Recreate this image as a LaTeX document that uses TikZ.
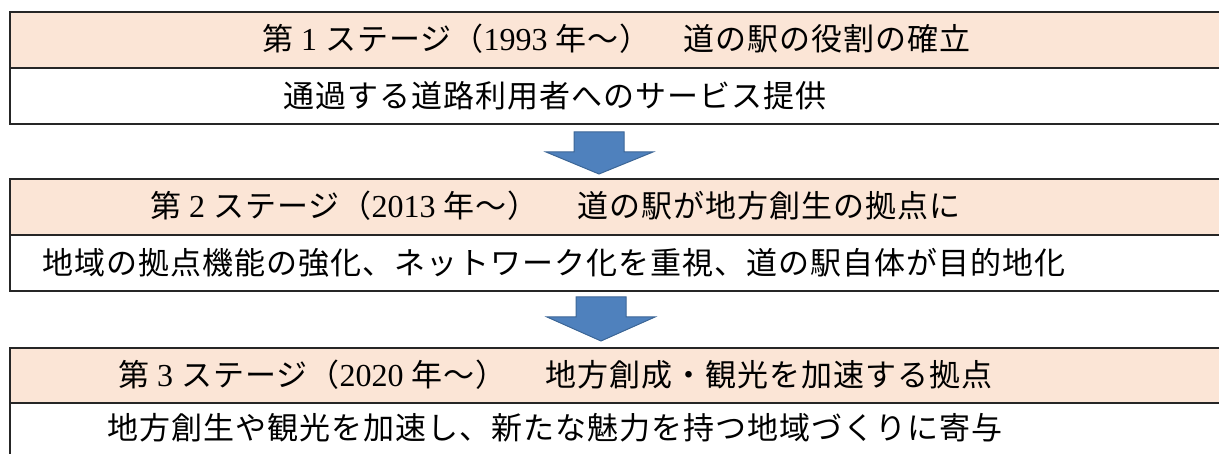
\documentclass[tikz,border=0pt]{standalone}
\usepackage{fontspec}
\setmainfont{Liberation Serif}
\newfontfamily\jp{Noto Sans CJK JP}[LetterSpace=3.3]
\definecolor{peach}{HTML}{FBE5D6}
\definecolor{arrowblue}{HTML}{4F81BD}
\definecolor{arrowedge}{HTML}{3C6696}
\newcommand{\dg}[1]{{\fontsize{32}{36}\selectfont #1}}
\tikzset{
  box/.style={draw=black!85, line width=1.2pt, anchor=north west, minimum width=1230pt, inner sep=0pt, outer sep=0pt},
  hdr/.style={box, fill=peach},
  cnt/.style={box, fill=white},
  txt/.style={anchor=west, inner sep=0pt, font=\fontsize{31}{36}\selectfont},
  blockarrow/.style={fill=arrowblue, draw=arrowedge, line width=1pt, line join=miter}
}
\begin{document}
\begin{tikzpicture}[x=1pt,y=-1pt]
\useasboundingbox (0,0) rectangle (1219,454);
\clip (0,0) rectangle (1219,454);
% stage 1
\node[cnt, minimum height=56pt] (c1) at (10,68) {};
\node[hdr, minimum height=56pt] (h1) at (10,12) {};
% stage 2
\node[cnt, minimum height=56pt] (c2) at (10,235) {};
\node[hdr, minimum height=56pt] (h2) at (10,179) {};
% stage 3
\node[cnt, minimum height=60pt] (c3) at (10,403) {};
\node[hdr, minimum height=55pt] (h3) at (10,348) {};
% arrows
\draw[blockarrow] (574,132) -- (624,132) -- (624,152) -- (653,152) -- (599,174) -- (546,152) -- (574,152) -- cycle;
\draw[blockarrow] (576,297) -- (626,297) -- (626,317) -- (655,317) -- (601,341) -- (547,317) -- (576,317) -- cycle;
% texts
\node[txt] (t1a) at (262,39) {{\jp 第}\hspace{8pt}\dg{1}\hspace{8pt}{\jp ステージ（}\dg{1993}\hspace{8pt}{\jp 年～）}};
\node[txt] (t1b) at (683,39) {\jp 道の駅の役割の確立};
\node[txt] (s1) at (283,96) {\jp 通過する道路利用者へのサービス提供};
\node[txt] (t2a) at (150,206) {{\jp 第}\hspace{8pt}\dg{2}\hspace{8pt}{\jp ステージ（}\dg{2013}\hspace{8pt}{\jp 年～）}};
\node[txt] (t2b) at (577,206) {\jp 道の駅が地方創生の拠点に};
\node[txt] (s2) at (42,263) {\jp 地域の拠点機能の強化、ネットワーク化を重視、道の駅自体が目的地化};
\node[txt] (t3a) at (118,375) {{\jp 第}\hspace{8pt}\dg{3}\hspace{8pt}{\jp ステージ（}\dg{2020}\hspace{8pt}{\jp 年～）}};
\node[txt] (t3b) at (545,375) {\jp 地方創成・観光を加速する拠点};
\node[txt] (s3) at (107,428) {\jp 地方創生や観光を加速し、新たな魅力を持つ地域づくりに寄与};
\end{tikzpicture}
\end{document}
